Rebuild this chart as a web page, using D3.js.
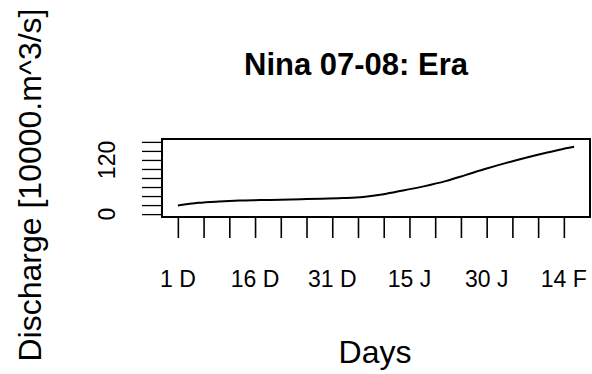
<!DOCTYPE html>
<html>
<head>
<meta charset="utf-8">
<script src="https://cdn.jsdelivr.net/npm/d3@7"></script>
<style>
  body { margin: 0; background: #fff; }
  svg { display: block; font-family: "Liberation Sans", Arial, Helvetica, sans-serif; }
</style>
</head>
<body>
<svg id="chart" width="592" height="374"></svg>
<script>
// data (day 0 = 1 Dec)
const days = [0, 4, 8, 12, 16, 20, 24, 28, 32, 36, 40, 44, 48, 52, 56, 60, 64, 68, 72, 76, 77]
const discharge = [19, 25, 28, 30, 31, 32, 33, 34, 35.5, 38, 44, 53, 62, 73, 87, 101, 114, 126, 137, 147, 149]
const xTicks = [0, 5, 10, 15, 20, 25, 30, 35, 40, 45, 50, 55, 60, 65, 70, 75]
const xTickLabels = ["1 D", "16 D", "31 D", "15 J", "30 J", "14 F"]
const xLabelDays = [0, 15, 30, 45, 60, 75]
const yTicks = [0, 20, 40, 60, 80, 100, 120, 140, 160]
const yLabelValues = [0, 120]

const box = { left: 162, right: 590, top: 139, bottom: 217 }

const svg = d3.select("#chart")

const x = d3.scaleLinear().domain([-3.08, 80.08]).range([box.left, box.right])
const y = d3.scaleLinear().domain([-6.4, 166.4]).range([box.bottom, box.top])

// title
svg.append("text")
    .attr("x", 356)
    .attr("y", 75)
    .attr("text-anchor", "middle")
    .style("font-weight", "bold")
    .style("font-size", "31px")
    .text("Nina 07-08: Era")

// x axis (ticks only, labels every third tick)
const xAxis = d3.axisBottom(x).tickValues(xTicks).tickSize(21).tickFormat("")
const gx = svg.append("g")
    .attr("transform", `translate(0, ${box.bottom})`)
    .call(xAxis)
gx.select(".domain").remove()
gx.selectAll(".tick line").attr("stroke", "#000").attr("stroke-width", 1.6)

svg.append("g").selectAll("text")
    .data(xLabelDays).enter()
    .append("text")
    .attr("x", d => x(d))
    .attr("y", 287)
    .attr("text-anchor", "middle")
    .style("font-size", "23px")
    .text((d, i) => xTickLabels[i])

// y axis
const yAxis = d3.axisLeft(y).tickValues(yTicks).tickSize(20).tickFormat("")
const gy = svg.append("g")
    .attr("transform", `translate(${box.left}, 0)`)
    .call(yAxis)
gy.select(".domain").remove()
gy.selectAll(".tick line").attr("stroke", "#000").attr("stroke-width", 1.3)

svg.append("g").selectAll("text")
    .data(yLabelValues).enter()
    .append("text")
    .attr("transform", d => `translate(115, ${y(d)}) rotate(-90)`)
    .attr("text-anchor", "middle")
    .style("font-size", "23px")
    .text(d => d)

// plot box
svg.append("rect")
    .attr("x", box.left)
    .attr("y", box.top)
    .attr("width", box.right - box.left)
    .attr("height", box.bottom - box.top)
    .attr("fill", "none")
    .attr("stroke", "#000")
    .attr("stroke-width", 2)

// the series
const line = d3.line()
    .x((d, i) => x(days[i]))
    .y(d => y(d))
    .curve(d3.curveMonotoneX)

svg.append("path")
    .datum(discharge)
    .attr("d", line)
    .attr("fill", "none")
    .attr("stroke", "#000")
    .attr("stroke-width", 2)

// axis titles
svg.append("text")
    .attr("x", 375)
    .attr("y", 363)
    .attr("text-anchor", "middle")
    .style("font-size", "32px")
    .text("Days")

svg.append("text")
    .attr("transform", "translate(41, 185) rotate(-90)")
    .attr("text-anchor", "middle")
    .style("font-size", "32px")
    .text("Discharge [10000.m^3/s]")
</script>
</body>
</html>
